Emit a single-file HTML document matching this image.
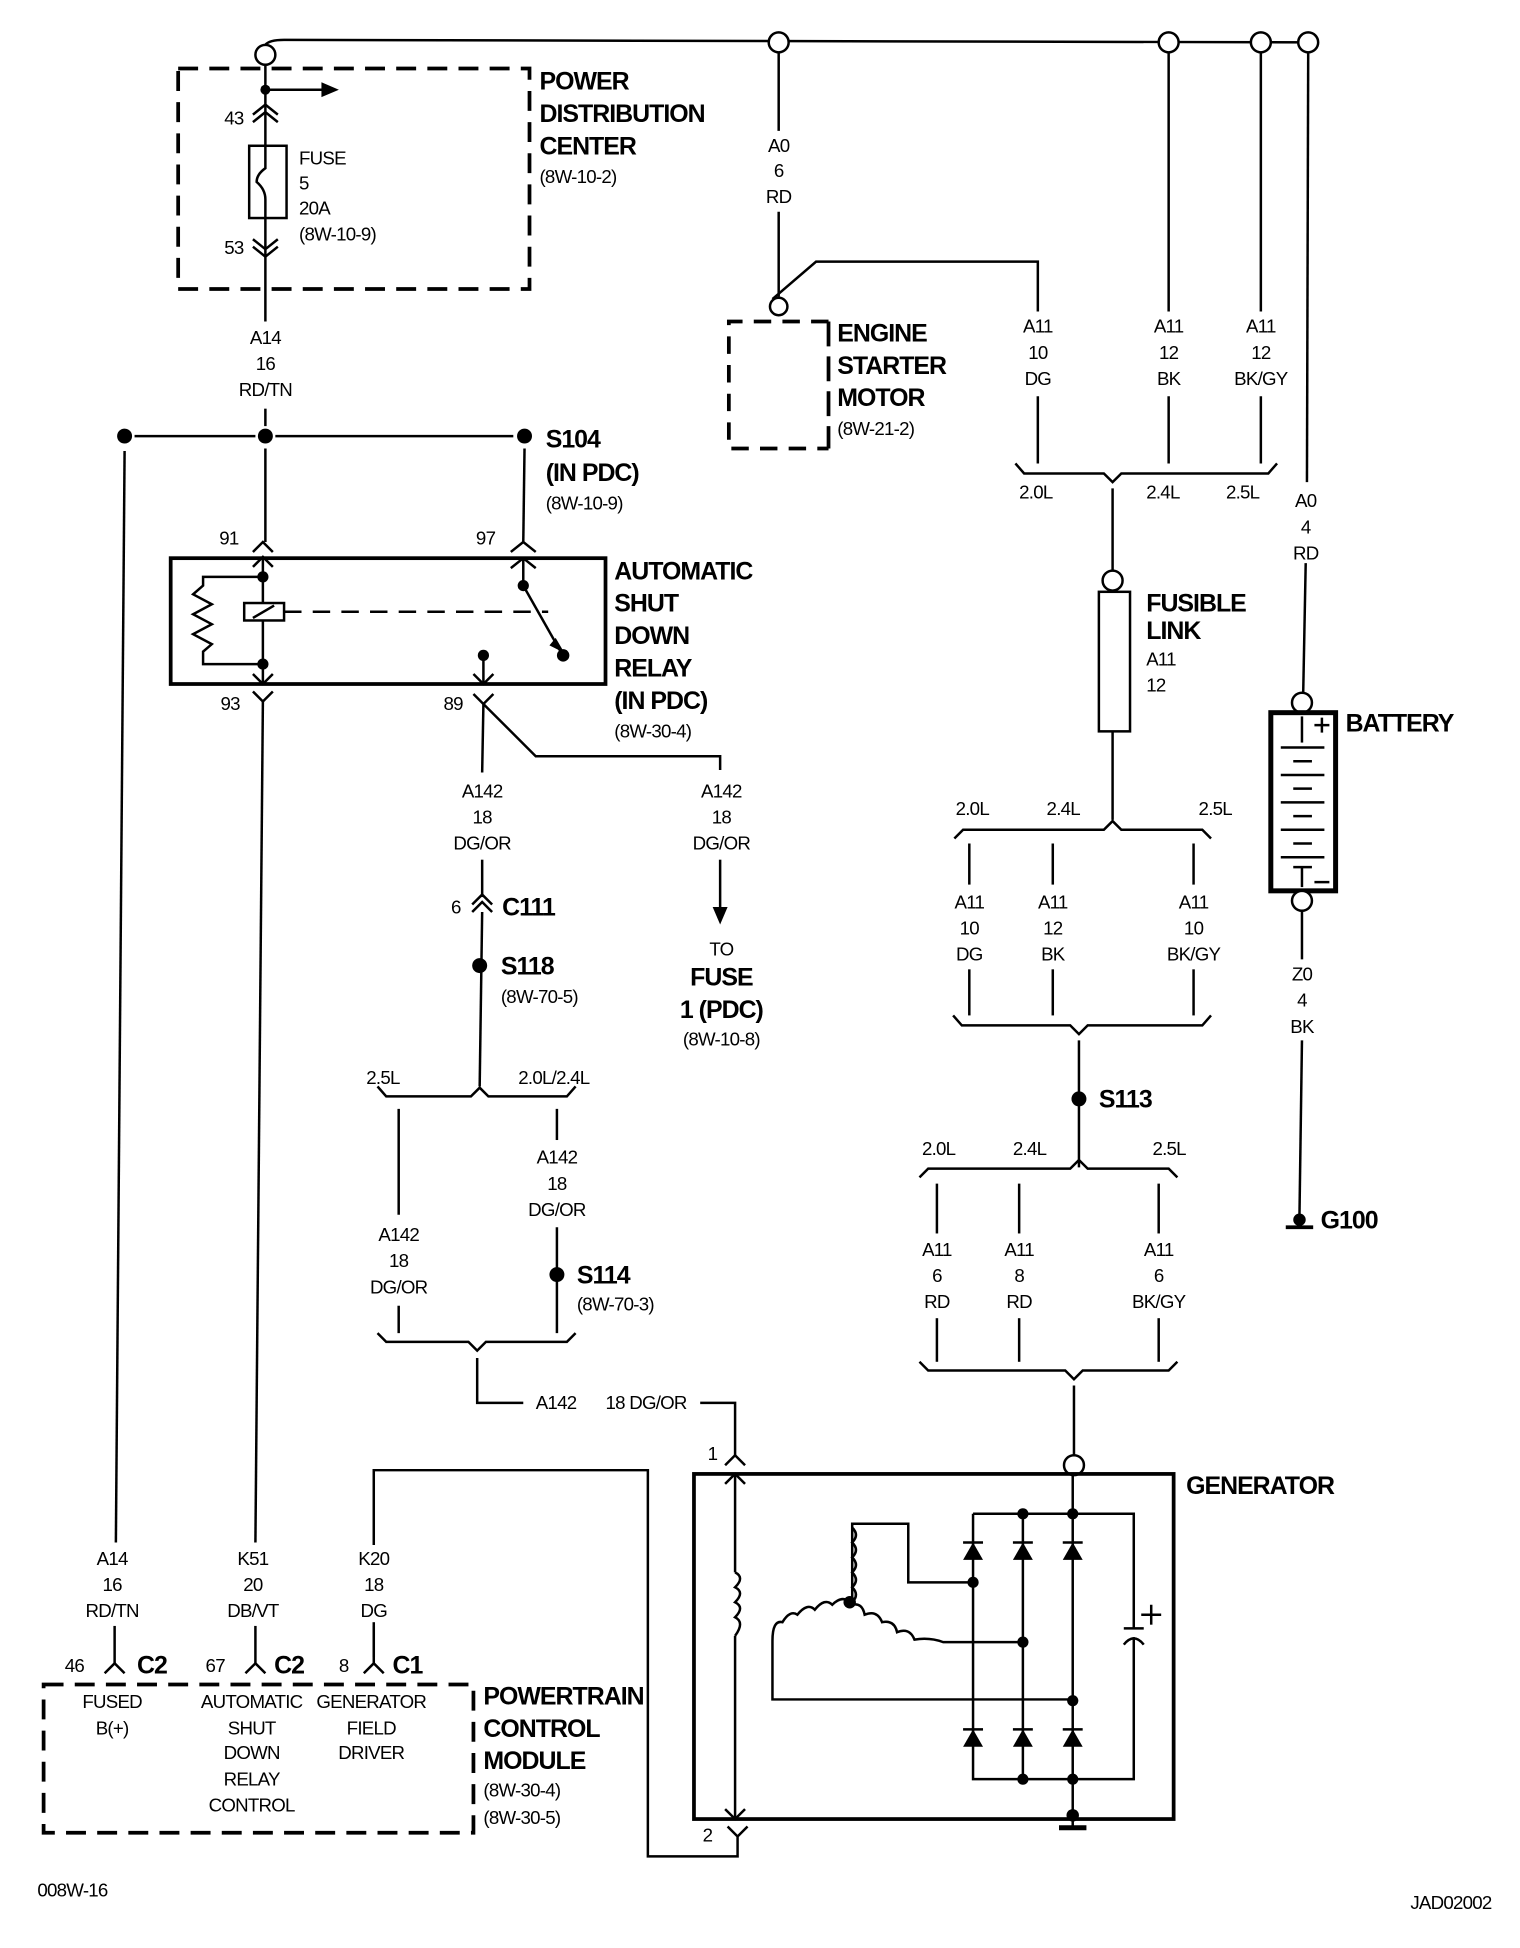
<!DOCTYPE html>
<html><head><meta charset="utf-8"><style>
html,body{margin:0;padding:0;background:#fff}
svg{display:block}
text{font-family:"Liberation Sans",sans-serif;fill:#000}
.t{font-size:15px;letter-spacing:-0.6px}
.b{font-size:20px;font-weight:bold;letter-spacing:-0.8px}
.c{text-anchor:middle}
</style></head><body>
<svg width="1520" height="1948" viewBox="0 0 1220 1563.5" preserveAspectRatio="none" xmlns="http://www.w3.org/2000/svg">
<g fill="none" stroke="#000" stroke-width="2">
<path d="M213,36 Q216,32 228,32 L1058,34"/>
<circle cx="213" cy="44" r="8" fill="#fff"/>
<circle cx="625" cy="34" r="8" fill="#fff"/>
<circle cx="938" cy="34" r="8" fill="#fff"/>
<circle cx="1012" cy="34" r="8" fill="#fff"/>
<circle cx="1050" cy="34" r="8" fill="#fff"/>
<rect x="143" y="55" width="282" height="177" stroke-width="3" stroke-dasharray="16,9"/>
<line x1="213" y1="52" x2="213" y2="117"/>
<line x1="213" y1="72" x2="260" y2="72"/>
<path d="M203,92 L213,84 L223,92 M203,98 L213,90 L223,98"/>
<rect x="200" y="117" width="30" height="58" fill="#fff"/>
<path d="M213,117 L213,135 Q206,140 206,146 Q213,152 213,160 L213,175"/>
<path d="M203,192 L213,200 L223,192 M203,198 L213,206 L223,198"/>
<line x1="213" y1="175" x2="213" y2="258"/>
<line x1="213" y1="328" x2="213" y2="342"/>
<line x1="108" y1="350" x2="205" y2="350"/>
<line x1="221" y1="350" x2="412" y2="350"/>
<line x1="100" y1="362" x2="93" y2="1238"/>
<line x1="213" y1="360" x2="213" y2="435"/>
<line x1="421" y1="360" x2="420" y2="435"/>
<path d="M203,443 L211,435 L219,443 M410,443 L420,435 L430,443"/>
<rect x="137" y="448" width="349" height="101" stroke-width="3"/>
<line x1="211" y1="448" x2="211" y2="549"/>
<path d="M203,455 L211,447 L219,455 M203,541 L211,549 L219,541"/>
<path d="M211,463 L163,463 L163,470 L155,477 L170,485 L155,493 L170,501 L155,509 L170,517 L163,523 L163,533 L211,533"/>
<rect x="196" y="484" width="32" height="14" fill="#fff"/>
<line x1="203" y1="496" x2="220" y2="486"/>
<line x1="228" y1="491" x2="440" y2="491" stroke-dasharray="14,9"/>
<line x1="420" y1="448" x2="420" y2="470"/>
<path d="M410,456 L420,448 L430,456"/>
<line x1="420" y1="470" x2="450" y2="523"/>
<line x1="388" y1="526" x2="388" y2="549"/>
<path d="M380,541 L388,549 L396,541"/>
<path d="M203,555 L211,563 L219,555 M380,557 L388,565 L396,557"/>
<line x1="211" y1="563" x2="205" y2="1238"/>
<line x1="388" y1="565" x2="387" y2="620"/>
<path d="M388,565 L430,607 L578,607 L578,618"/>
<line x1="387" y1="690" x2="387" y2="720"/>
<path d="M379,726 L387,718 L395,726 M379,732 L387,724 L395,732"/>
<line x1="387" y1="732" x2="385" y2="872"/>
<line x1="578" y1="690" x2="578" y2="730"/>
<path d="M303,872 L310,880 L378,880 L385,873 L392,880 L455,880 L462,872"/>
<line x1="320" y1="890" x2="320" y2="975"/>
<line x1="320" y1="1048" x2="320" y2="1070"/>
<line x1="447" y1="890" x2="447" y2="915"/>
<line x1="447" y1="985" x2="447" y2="1070"/>
<path d="M303,1070 L310,1077 L376,1077 L383,1084 L390,1077 L455,1077 L462,1070"/>
<path d="M383,1090 L383,1126 L420,1126"/>
<path d="M562,1126 L590,1126 L590,1168"/>
<path d="M582,1176 L590,1168 L598,1176"/>
<line x1="625" y1="42" x2="625" y2="105"/>
<line x1="625" y1="170" x2="625" y2="238"/>
<path d="M620,240 L655,210 L833,210 L833,250"/>
<circle cx="625" cy="246" r="7" fill="#fff"/>
<path d="M665,258 L585,258 L585,360 L665,360" stroke-width="3" stroke-dasharray="14,9"/>
<line x1="665" y1="258" x2="665" y2="360" stroke-width="3" stroke-dasharray="20,8"/>
<line x1="938" y1="42" x2="938" y2="250"/>
<line x1="1012" y1="42" x2="1012" y2="250"/>
<line x1="833" y1="318" x2="833" y2="372"/>
<line x1="938" y1="318" x2="938" y2="372"/>
<line x1="1012" y1="318" x2="1012" y2="372"/>
<path d="M815,372 L822,380 L886,380 L893,387 L900,380 L1018,380 L1025,372"/>
<line x1="893" y1="392" x2="893" y2="458"/>
<circle cx="893" cy="466" r="8" fill="#fff"/>
<rect x="882" y="475" width="25" height="112"/>
<line x1="893" y1="587" x2="893" y2="658"/>
<path d="M766,673 L773,666 L886,666 L893,659 L900,666 L965,666 L972,673"/>
<line x1="778" y1="677" x2="778" y2="710"/>
<line x1="845" y1="677" x2="845" y2="710"/>
<line x1="958" y1="677" x2="958" y2="710"/>
<line x1="778" y1="778" x2="778" y2="815"/>
<line x1="845" y1="778" x2="845" y2="815"/>
<line x1="958" y1="778" x2="958" y2="815"/>
<path d="M765,815 L772,823 L859,823 L866,830 L873,823 L965,823 L972,815"/>
<line x1="866" y1="835" x2="866" y2="937"/>
<path d="M738,945 L745,938 L859,938 L866,931 L873,938 L938,938 L945,945"/>
<line x1="752" y1="950" x2="752" y2="990"/>
<line x1="818" y1="950" x2="818" y2="990"/>
<line x1="930" y1="950" x2="930" y2="990"/>
<line x1="752" y1="1058" x2="752" y2="1093"/>
<line x1="818" y1="1058" x2="818" y2="1093"/>
<line x1="930" y1="1058" x2="930" y2="1093"/>
<path d="M738,1093 L745,1100 L855,1100 L862,1107 L869,1100 L938,1100 L945,1093"/>
<line x1="862" y1="1112" x2="862" y2="1168"/>
<line x1="1050" y1="42" x2="1049" y2="387"/>
<line x1="1048" y1="452" x2="1046" y2="556"/>
<circle cx="1045" cy="564" r="8" fill="#fff"/>
<rect x="1020" y="572" width="52" height="143" stroke-width="4"/>
<line x1="1045" y1="575" x2="1045" y2="596"/>
<line x1="1045" y1="696" x2="1045" y2="712"/>
<circle cx="1045" cy="723" r="8" fill="#fff"/>
<line x1="1045" y1="731" x2="1045" y2="770"/>
<line x1="1045" y1="835" x2="1043" y2="975"/>
<line x1="1032" y1="985" x2="1054" y2="985" stroke-width="3"/>
<circle cx="862" cy="1176" r="8" fill="#fff"/>
<rect x="557" y="1183" width="385" height="277" stroke-width="3"/>
<line x1="590" y1="1183" x2="590" y2="1262"/>
<path d="M582,1191 L590,1183 L598,1191 M582,1452 L590,1460 L598,1452"/>
<path d="M590,1262 Q598,1266 590,1274 Q598,1278 590,1286 Q598,1290 590,1298 Q598,1302 590,1313"/>
<line x1="590" y1="1313" x2="590" y2="1460"/>
<path d="M584,1466 L592,1474 L600,1466 M592,1474 L592,1490 L520,1490 L520,1180 L300,1180 L300,1240"/>
<line x1="300" y1="1302" x2="300" y2="1330"/>
<path d="M781,1215 L910,1215 L910,1307"/>
<line x1="902" y1="1307" x2="918" y2="1307"/>
<path d="M902,1320 Q910,1310 918,1320"/>
<path d="M910,1314 L910,1428 L781,1428 L781,1215"/>
<line x1="821" y1="1215" x2="821" y2="1428"/>
<line x1="861" y1="1183" x2="861" y2="1467"/>
<line x1="850" y1="1467" x2="872" y2="1467" stroke-width="4"/>
<line x1="916" y1="1296" x2="932" y2="1296"/>
<line x1="924" y1="1288" x2="924" y2="1304"/>
<path d="M684,1286 L684,1223 L729,1223 L729,1270 L781,1270"/>
<path d="M684,1286 Q690,1280 684,1274 Q690,1268 684,1262 Q690,1256 684,1250 Q690,1244 684,1238 Q690,1232 684,1226" />
<path d="M682,1286 Q676,1280 668,1288 Q662,1282 654,1292 Q648,1286 640,1296 Q634,1292 628,1302 Q620,1300 620,1317 L620,1364 L861,1364"/>
<path d="M684,1288 Q692,1286 694,1296 Q704,1292 708,1302 Q718,1300 720,1310 Q730,1306 734,1316 Q746,1314 757,1318 L821,1318"/>
</g>
<g fill="#000">
<circle cx="213" cy="72" r="4"/>
<path d="M258,66 L272,72 L258,78Z"/>
<circle cx="100" cy="350" r="6"/><circle cx="213" cy="350" r="6"/><circle cx="421" cy="350" r="6"/>
<circle cx="211" cy="463" r="4.5"/><circle cx="211" cy="533" r="4.5"/>
<circle cx="420" cy="470" r="4.5"/><circle cx="452" cy="526" r="5"/><circle cx="388" cy="526" r="4.5"/>
<path d="M446,512 L453,524 L441,518Z"/>
<path d="M572,728 L584,728 L578,742Z"/>
<circle cx="385" cy="775" r="6"/>
<circle cx="447" cy="1023" r="6"/>
<circle cx="866" cy="882" r="6"/>
<circle cx="1043" cy="979" r="5"/>
<circle cx="682" cy="1286" r="5"/>
<circle cx="781" cy="1270" r="4.5"/><circle cx="821" cy="1215" r="4.5"/><circle cx="861" cy="1215" r="4.5"/>
<circle cx="821" cy="1318" r="4.5"/><circle cx="861" cy="1365" r="4.5"/>
<circle cx="821" cy="1428" r="4.5"/><circle cx="861" cy="1428" r="4.5"/><circle cx="861" cy="1457" r="5"/>
<path d="M773,1252 L789,1252 L781,1238Z"/><path d="M813,1252 L829,1252 L821,1238Z"/><path d="M853,1252 L869,1252 L861,1238Z"/>
<path d="M773,1402 L789,1402 L781,1388Z"/><path d="M813,1402 L829,1402 L821,1388Z"/><path d="M853,1402 L869,1402 L861,1388Z"/>
</g>
<g stroke="#000" stroke-width="2" fill="none">
<line x1="773" y1="1238" x2="789" y2="1238"/><line x1="813" y1="1238" x2="829" y2="1238"/><line x1="853" y1="1238" x2="869" y2="1238"/>
<line x1="773" y1="1388" x2="789" y2="1388"/><line x1="813" y1="1388" x2="829" y2="1388"/><line x1="853" y1="1388" x2="869" y2="1388"/>
<line x1="1028" y1="600" x2="1063" y2="600"/><line x1="1038" y1="611" x2="1053" y2="611"/>
<line x1="1028" y1="622" x2="1063" y2="622"/><line x1="1038" y1="633" x2="1053" y2="633"/>
<line x1="1028" y1="644" x2="1063" y2="644"/><line x1="1038" y1="655" x2="1053" y2="655"/>
<line x1="1028" y1="666" x2="1063" y2="666"/><line x1="1038" y1="677" x2="1053" y2="677"/>
<line x1="1028" y1="688" x2="1063" y2="688"/><line x1="1038" y1="696" x2="1053" y2="696"/>
<line x1="1055" y1="582" x2="1067" y2="582"/><line x1="1061" y1="576" x2="1061" y2="588"/>
<line x1="1055" y1="708" x2="1067" y2="708"/>
<line x1="92" y1="1305" x2="92" y2="1335"/><path d="M84,1343 L92,1335 L100,1343"/>
<line x1="205" y1="1305" x2="205" y2="1335"/><path d="M197,1343 L205,1335 L213,1343"/>
<line x1="300" y1="1305" x2="300" y2="1335"/><path d="M292,1343 L300,1335 L308,1343"/>
</g>
<rect x="35" y="1352" width="345" height="119" fill="none" stroke="#000" stroke-width="3" stroke-dasharray="16,9"/>
<g class="b">
<text x="433" y="72">POWER</text><text x="433" y="98">DISTRIBUTION</text><text x="433" y="124">CENTER</text>
<text x="438" y="359">S104</text><text x="438" y="386">(IN PDC)</text>
<text x="493" y="465">AUTOMATIC</text><text x="493" y="491">SHUT</text><text x="493" y="517">DOWN</text><text x="493" y="543">RELAY</text><text x="493" y="569">(IN PDC)</text>
<text x="672" y="274">ENGINE</text><text x="672" y="300">STARTER</text><text x="672" y="326">MOTOR</text>
<text x="920" y="491">FUSIBLE</text><text x="920" y="513">LINK</text>
<text x="1080" y="587">BATTERY</text>
<text x="403" y="735">C111</text><text x="402" y="782">S118</text>
<text x="579" y="791" class="c">FUSE</text><text x="579" y="817" class="c">1 (PDC)</text>
<text x="463" y="1030">S114</text><text x="882" y="889">S113</text>
<text x="1060" y="986">G100</text>
<text x="952" y="1199">GENERATOR</text>
<text x="110" y="1343">C2</text><text x="220" y="1343">C2</text><text x="315" y="1343">C1</text>
<text x="388" y="1368">POWERTRAIN</text><text x="388" y="1394">CONTROL</text><text x="388" y="1420">MODULE</text>
</g>
<g class="t">
<text x="433" y="147">(8W-10-2)</text>
<text x="240" y="132">FUSE</text><text x="240" y="152">5</text><text x="240" y="172">20A</text><text x="240" y="193">(8W-10-9)</text>
<text x="180" y="100">43</text><text x="180" y="204">53</text>
<g class="c"><text x="213" y="276">A14</text><text x="213" y="297">16</text><text x="213" y="318">RD/TN</text></g>
<text x="438" y="409">(8W-10-9)</text>
<text x="176" y="437">91</text><text x="382" y="437">97</text>
<text x="177" y="570">93</text><text x="356" y="570">89</text>
<text x="493" y="592">(8W-30-4)</text>
<g class="c">
<text x="387" y="640">A142</text><text x="387" y="661">18</text><text x="387" y="682">DG/OR</text>
<text x="579" y="640">A142</text><text x="579" y="661">18</text><text x="579" y="682">DG/OR</text>
<text x="579" y="767">TO</text><text x="579" y="839">(8W-10-8)</text>
<text x="625" y="122">A0</text><text x="625" y="142">6</text><text x="625" y="163">RD</text>
<text x="833" y="267">A11</text><text x="833" y="288">10</text><text x="833" y="309">DG</text>
<text x="938" y="267">A11</text><text x="938" y="288">12</text><text x="938" y="309">BK</text>
<text x="1012" y="267">A11</text><text x="1012" y="288">12</text><text x="1012" y="309">BK/GY</text>
<text x="1048" y="407">A0</text><text x="1048" y="428">4</text><text x="1048" y="449">RD</text>
<text x="1045" y="787">Z0</text><text x="1045" y="808">4</text><text x="1045" y="829">BK</text>
<text x="778" y="729">A11</text><text x="778" y="750">10</text><text x="778" y="771">DG</text>
<text x="845" y="729">A11</text><text x="845" y="750">12</text><text x="845" y="771">BK</text>
<text x="958" y="729">A11</text><text x="958" y="750">10</text><text x="958" y="771">BK/GY</text>
<text x="752" y="1008">A11</text><text x="752" y="1029">6</text><text x="752" y="1050">RD</text>
<text x="818" y="1008">A11</text><text x="818" y="1029">8</text><text x="818" y="1050">RD</text>
<text x="930" y="1008">A11</text><text x="930" y="1029">6</text><text x="930" y="1050">BK/GY</text>
<text x="447" y="934">A142</text><text x="447" y="955">18</text><text x="447" y="976">DG/OR</text>
<text x="320" y="996">A142</text><text x="320" y="1017">18</text><text x="320" y="1038">DG/OR</text>
<text x="90" y="1256">A14</text><text x="90" y="1277">16</text><text x="90" y="1298">RD/TN</text>
<text x="203" y="1256">K51</text><text x="203" y="1277">20</text><text x="203" y="1298">DB/VT</text>
<text x="300" y="1256">K20</text><text x="300" y="1277">18</text><text x="300" y="1298">DG</text>
<text x="90" y="1371">FUSED</text><text x="90" y="1392">B(+)</text>
<text x="202" y="1371">AUTOMATIC</text><text x="202" y="1392">SHUT</text><text x="202" y="1412">DOWN</text><text x="202" y="1433">RELAY</text><text x="202" y="1454">CONTROL</text>
<text x="298" y="1371">GENERATOR</text><text x="298" y="1392">FIELD</text><text x="298" y="1412">DRIVER</text>
</g>
<text x="402" y="805">(8W-70-5)</text>
<text x="463" y="1052">(8W-70-3)</text>
<text x="362" y="733">6</text>
<text x="672" y="349">(8W-21-2)</text>
<text x="920" y="534">A11</text><text x="920" y="555">12</text>
<text x="818" y="400">2.0L</text><text x="920" y="400">2.4L</text><text x="984" y="400">2.5L</text>
<text x="767" y="654">2.0L</text><text x="840" y="654">2.4L</text><text x="962" y="654">2.5L</text>
<text x="294" y="870">2.5L</text><text x="416" y="870">2.0L/2.4L</text>
<text x="740" y="927">2.0L</text><text x="813" y="927">2.4L</text><text x="925" y="927">2.5L</text>
<text x="430" y="1131">A142</text><text x="486" y="1131">18 DG/OR</text>
<text x="568" y="1172">1</text><text x="564" y="1478">2</text>
<text x="52" y="1342">46</text><text x="165" y="1342">67</text><text x="272" y="1342">8</text>
<text x="388" y="1442">(8W-30-4)</text><text x="388" y="1464">(8W-30-5)</text>
<text x="30" y="1522">008W-16</text><text x="1132" y="1532">JAD02002</text>
</g>
</svg>
</body></html>
